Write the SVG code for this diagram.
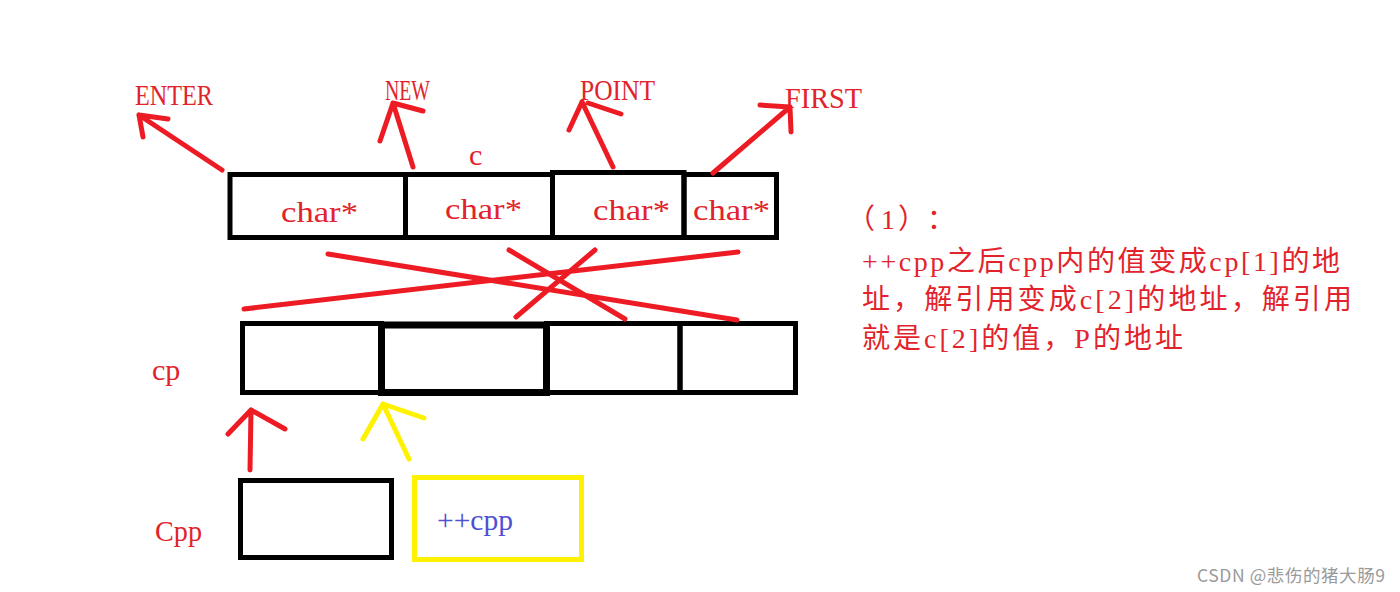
<svg xmlns="http://www.w3.org/2000/svg" width="1400" height="592" viewBox="0 0 1400 592">
<style>
.box{fill:none;stroke:#000;stroke-width:5}
.ybox{fill:none;stroke:#FFF200;stroke-width:5}
.lbl{font-family:"Liberation Serif",serif;font-size:30px;fill:#e2232b}
.blue{font-family:"Liberation Serif",serif;font-size:30px;fill:#4f4fd2}
.note{font-family:"Liberation Serif","Noto Sans CJK SC",serif;font-size:28px;fill:#e2232b;text-spacing-trim:space-all}
.wm{font-family:"Noto Sans CJK SC","Liberation Sans",sans-serif;font-size:17.5px;fill:#9a9a9a}
.red{fill:none;stroke:#ED1C24;stroke-width:5;stroke-linecap:round;stroke-linejoin:round}
.yel{fill:none;stroke:#FFF200;stroke-width:5;stroke-linecap:round;stroke-linejoin:round}
</style>
<rect width="1400" height="592" fill="#fff"/>

<g id="c-array">
  <rect class="box" x="230" y="174.5" width="175.5" height="63"/>
  <rect class="box" x="405.5" y="174.5" width="147" height="63"/>
  <rect class="box" x="552.5" y="172.5" width="131.5" height="65"/>
  <rect class="box" x="684" y="174.5" width="92.5" height="63"/>
  <text class="lbl" x="281" y="222" textLength="77" lengthAdjust="spacingAndGlyphs">char*</text>
  <text class="lbl" x="445" y="219" textLength="77" lengthAdjust="spacingAndGlyphs">char*</text>
  <text class="lbl" x="593" y="220" textLength="77" lengthAdjust="spacingAndGlyphs">char*</text>
  <text class="lbl" x="693" y="220" textLength="77" lengthAdjust="spacingAndGlyphs">char*</text>
  <text class="lbl" x="469" y="165">c</text>
</g>

<g id="targets">
  <text class="lbl" x="135" y="105" textLength="78" lengthAdjust="spacingAndGlyphs">ENTER</text>
  <text class="lbl" x="385" y="100" textLength="45" lengthAdjust="spacingAndGlyphs">NEW</text>
  <text class="lbl" x="580" y="100" textLength="75" lengthAdjust="spacingAndGlyphs">POINT</text>
  <text class="lbl" x="785" y="108" textLength="77" lengthAdjust="spacingAndGlyphs">FIRST</text>
</g>

<g id="cp-array">
  <rect class="box" x="242.5" y="323.5" width="139" height="69"/>
  <rect class="box" x="546.5" y="323.5" width="133.5" height="69"/>
  <rect class="box" x="680" y="323.5" width="115.5" height="69"/>
  <rect x="381.5" y="325" width="165" height="67.5" fill="none" stroke="#000" stroke-width="7"/>
  <text class="lbl" x="152" y="380">cp</text>
</g>

<g id="cpp">
  <rect class="box" x="240.5" y="480.5" width="151" height="77"/>
  <text class="lbl" x="155" y="541" textLength="47" lengthAdjust="spacingAndGlyphs">Cpp</text>
</g>

<g id="inc-cpp">
  <rect class="ybox" x="414.5" y="477.5" width="167" height="82"/>
  <text class="blue" x="437" y="530" textLength="76" lengthAdjust="spacingAndGlyphs">++cpp</text>
</g>

<g id="connectors">
  <path class="red" d="M222,170 L139,115 M139,115 L168,119 M139,115 L143,137"/>
  <path class="red" d="M413,167 L393,103 M393,103 L380,141 M393,103 L423,111"/>
  <path class="red" d="M613,167 L582,102 M582,102 L569,130 M588,103 L621,114"/>
  <path class="red" d="M713,173 L790,107 M790,107 L760,105 M790,107 L791,132"/>
  <path class="red" d="M328,254 L737,320"/>
  <path class="red" d="M244,309 L738,252"/>
  <path class="red" d="M509,250 L625,319"/>
  <path class="red" d="M595,250 L516,317"/>
  <path class="red" d="M250,470 L251,410 M251,410 L228,434 M251,410 L285,429"/>
  <path class="yel" d="M409,459 L383,404 M383,404 L363,439 M383,404 L424,418"/>
</g>

<g id="note">
  <text class="note" y="229"><tspan x="847">（</tspan><tspan x="881">1</tspan><tspan x="898">）</tspan><tspan x="927">：</tspan></text>
  <text class="note" x="862" y="271" textLength="478" lengthAdjust="spacing">++cpp之后cpp内的值变成cp[1]的地</text>
  <text class="note" x="862" y="309" textLength="490" lengthAdjust="spacing">址，解引用变成c[2]的地址，解引用</text>
  <text class="note" x="862" y="348" textLength="321" lengthAdjust="spacing">就是c[2]的值，P的地址</text>
</g>

<g id="watermark">
  <text class="wm" x="1197" y="582" textLength="188" lengthAdjust="spacing">CSDN @悲伤的猪大肠9</text>
</g>
</svg>
